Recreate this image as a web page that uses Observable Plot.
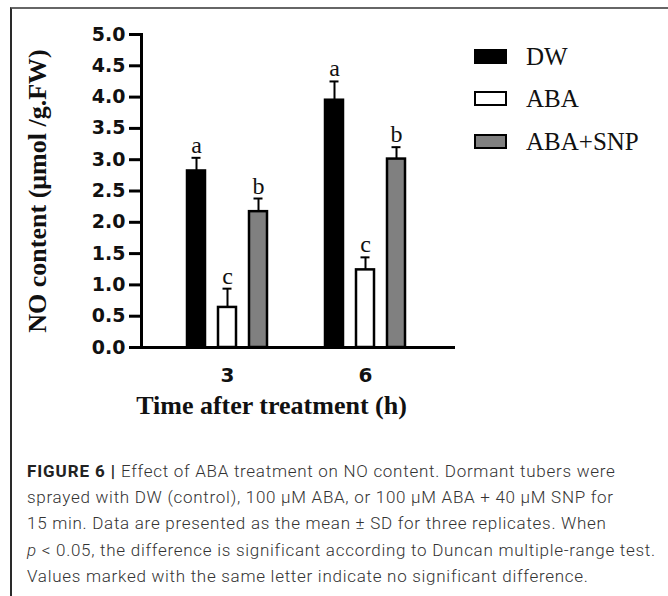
<!DOCTYPE html>
<html>
<head>
<meta charset="utf-8">
<script src="https://cdn.jsdelivr.net/npm/d3@7"></script>
<script src="https://cdn.jsdelivr.net/npm/@observablehq/plot@0.6"></script>
<style>
  html, body { margin: 0; padding: 0; background: #fff; }
  #wrap { position: relative; width: 668px; height: 596px; overflow: hidden; background: #fff; }
  #border { position: absolute; left: 10px; top: 7px; width: 700px; height: 700px;
            border-top: 2px solid #666; border-left: 2px solid #2a2a2a; }
  #chart, #axes { position: absolute; left: 0; top: 0; }
  #legend { position: absolute; left: 474px; top: 49px; }
  .lrow { position: absolute; left: 0; height: 15px; width: 200px; }
  .sw { position: absolute; left: 0; top: 0; width: 33px; height: 15px; box-sizing: border-box; border: 2.5px solid #000; }
  .lt { position: absolute; left: 52px; top: 0; line-height: 15px; font-family: "Liberation Serif", serif; font-size: 25px; color: #111; white-space: nowrap; }
  #caption { position: absolute; left: 27px; top: 458px; font-family: Roboto, "Liberation Sans", sans-serif; font-weight: 300;
             font-size: 17px; letter-spacing: 0.72px; line-height: 26.2px; color: #333; white-space: nowrap; }
  #caption b { font-weight: 700; color: #222; letter-spacing: 0.9px; }
</style>
</head>
<body>
<div id="wrap">
  <div id="border"></div>
  <div id="axes"></div>
  <div id="chart"></div>
  <div id="legend"></div>
  <div id="caption"><b>FIGURE 6 |</b> Effect of ABA treatment on NO content. Dormant tubers were<br>sprayed with DW (control), 100 μM ABA, or 100 μM ABA + 40 μM SNP for<br>15 min. Data are presented as the mean ± SD for three replicates. When<br><i>p</i> &lt; 0.05, the difference is significant according to Duncan multiple-range test.<br>Values marked with the same letter indicate no significant difference.</div>
</div>
<script>
// ---- data ----
const times = ["3", "6"];
const treatments = ["DW", "ABA", "ABA+SNP"];
const dwMeans = [2.82, 3.95];
const dwSD = [0.21, 0.30];
const dwLetters = ["a", "a"];
const abaMeans = [0.64, 1.24];
const abaSD = [0.30, 0.20];
const abaLetters = ["c", "c"];
const snpMeans = [2.17, 3.01];
const snpSD = [0.21, 0.19];
const snpLetters = ["b", "b"];
const fills = ["#000000", "#ffffff", "#808080"];
const yTicks = [0, 0.5, 1, 1.5, 2, 2.5, 3, 3.5, 4, 4.5, 5];
const yTitle = "NO content (μmol /g.FW)";
const xTitle = "Time after treatment (h)";

const means = [dwMeans, abaMeans, snpMeans];
const sds = [dwSD, abaSD, snpSD];
const letters = [dwLetters, abaLetters, snpLetters];
const rows = times.flatMap((t, i) => treatments.map((tr, j) => ({
  time: t, treatment: tr, mean: means[j][i], sd: sds[j][i], letter: letters[j][i]
})));
const errTop = d => d.mean + d.sd;

const dims = { width: 668, height: 430, marginLeft: 141, marginRight: 215, marginTop: 34, marginBottom: 83 };
const yScale = { domain: [0, 5] };

// axes layer (no facets: frame spans the full plot area)
const axes = Plot.plot({
  ...dims,
  style: { background: "transparent", overflow: "visible", fontFamily: "Liberation Serif" },
  y: yScale,
  marks: [
    Plot.axisY({ ticks: yTicks, tickFormat: d3.format(".1f"), tickSize: 12, tickPadding: 4, strokeWidth: 3,
                 fontSize: 19, fontWeight: "bold", fontFamily: "DejaVu Sans", fill: "#111", label: null }),
    Plot.frame({ anchor: "left", stroke: "#000", strokeWidth: 3 }),
    Plot.frame({ anchor: "bottom", stroke: "#000", strokeWidth: 3 }),
    Plot.text([yTitle], { frameAnchor: "left", rotate: -90, dx: -104, text: d => d, textAnchor: "middle",
                          fontFamily: "Liberation Serif", fontWeight: "bold", fontSize: 26, fill: "#111" }),
    Plot.text([xTitle], { frameAnchor: "bottom", dx: -26, dy: 66, text: d => d, textAnchor: "middle",
                          fontFamily: "Liberation Serif", fontWeight: "bold", fontSize: 26, fill: "#111" })
  ]
});
document.getElementById("axes").appendChild(axes);

// bars layer (faceted by time)
const plot = Plot.plot({
  ...dims,
  style: { background: "transparent", overflow: "visible", fontFamily: "Liberation Serif" },
  fx: { domain: times, paddingInner: 0, paddingOuter: 0.125, align: 0.46, label: null },
  x: { domain: treatments, paddingInner: 0.406, paddingOuter: 0.87, axis: null },
  y: { ...yScale, axis: null },
  color: { domain: treatments, range: fills },
  marks: [
    Plot.ruleX(rows, { fx: "time", x: "treatment", y1: "mean", y2: errTop, stroke: "#000", strokeWidth: 2 }),
    Plot.tickY(rows, { fx: "time", x: "treatment", y: errTop, stroke: "#000", strokeWidth: 2, insetLeft: 4.5, insetRight: 4.5 }),
    Plot.barY(rows, { fx: "time", x: "treatment", y: "mean", fill: "treatment", stroke: "#000", strokeWidth: 2.5 }),
    Plot.text(rows, { fx: "time", x: "treatment", y: errTop, text: "letter", dy: -5, lineAnchor: "bottom",
                      fontFamily: "Liberation Serif", fontSize: 24, fill: "#111" }),
    Plot.axisFx({ anchor: "bottom", tickSize: 0, tickPadding: 20, fontSize: 20, fontWeight: "bold",
                  fontFamily: "DejaVu Sans", fill: "#111", label: null })
  ]
});
document.getElementById("chart").appendChild(plot);

// legend
const legend = document.getElementById("legend");
treatments.forEach((t, i) => {
  const row = document.createElement("div");
  row.className = "lrow";
  row.style.top = (i * 42.3) + "px";
  const sw = document.createElement("div");
  sw.className = "sw";
  sw.style.background = fills[i];
  const tx = document.createElement("div");
  tx.className = "lt";
  tx.textContent = t;
  row.appendChild(sw); row.appendChild(tx);
  legend.appendChild(row);
});
</script>
</body>
</html>
